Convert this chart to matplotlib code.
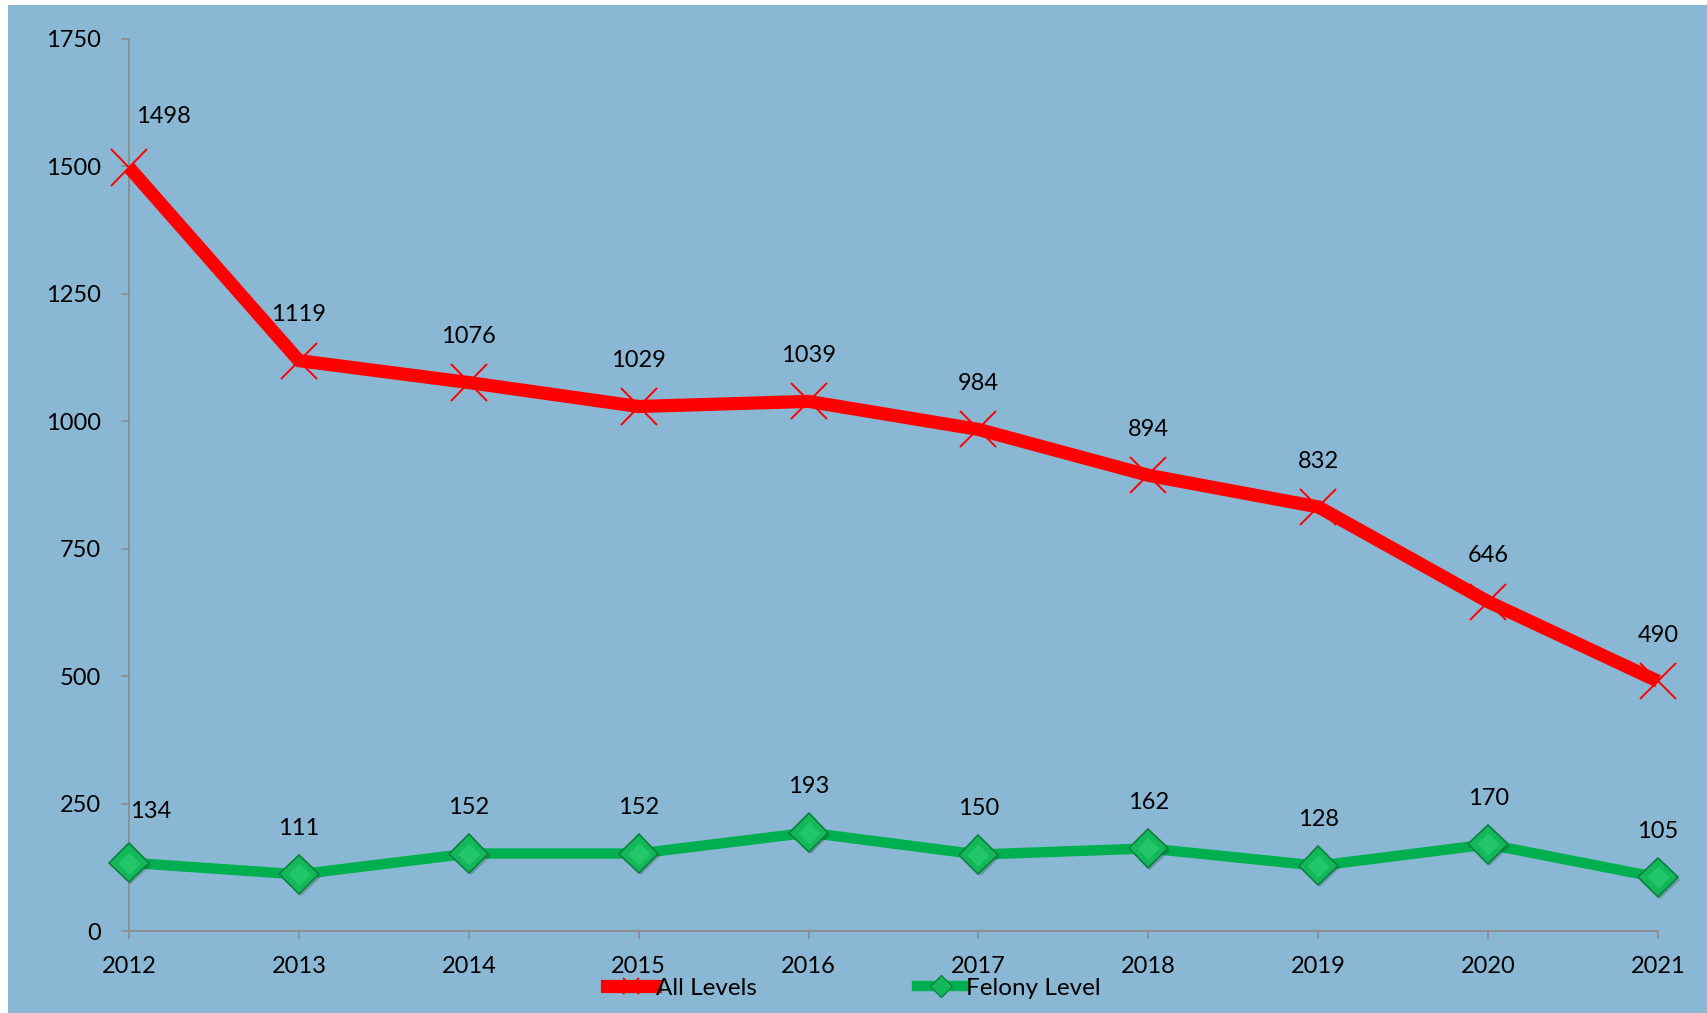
import numpy as np
import matplotlib.pyplot as plt
from matplotlib.lines import Line2D
import matplotlib.patheffects as pe

years = [2012, 2013, 2014, 2015, 2016, 2017, 2018, 2019, 2020, 2021]
all_levels = [1498, 1119, 1076, 1029, 1039, 984, 894, 832, 646, 490]
felony_level = [134, 111, 152, 152, 193, 150, 162, 128, 170, 105]
y_ticks = [0, 250, 500, 750, 1000, 1250, 1500, 1750]

bg = "#8AB8D4"
red = "#FF0000"
green = "#00B050"
axis_gray = "#8C8C8C"

plt.rcParams['font.family'] = ['Lato', 'DejaVu Sans']

fig = plt.figure(figsize=(17.08, 10.13), dpi=100, facecolor="white")
# blue panel with thin white margin top/left
fig.patches.append(plt.Rectangle((8 / 1708, 0), 1, 1 - 5 / 1013, transform=fig.transFigure,
                                 facecolor=bg, edgecolor="none", zorder=-10))
ax = fig.add_axes([129 / 1708, 1 - 931 / 1013, (1658 - 129) / 1708, (931 - 39) / 1013])
ax.set_facecolor("none")
ax.set_zorder(2)

shadow = [pe.SimplePatchShadow(offset=(1.5, -1.5), alpha=0.25), pe.Normal()]

ax.plot(years, all_levels, color=red, linewidth=9.5, solid_capstyle="butt", zorder=3,
        clip_on=False)
ax.plot(years, all_levels, linestyle="none", marker="x", markersize=26, markeredgewidth=1.4,
        color=red, zorder=4, path_effects=shadow, clip_on=False)

ax.plot(years, felony_level, color=green, linewidth=7.5, zorder=3, clip_on=False)
ax.plot(years, felony_level, linestyle="none", marker="D", markersize=20,
        markerfacecolor="#13B85A", markeredgecolor="#0B7F3C", markeredgewidth=1.2,
        zorder=4, path_effects=shadow, clip_on=False)
ax.plot(years, felony_level, linestyle="none", marker="D", markersize=11,
        markerfacecolor="#2BD272", markeredgecolor="none", alpha=0.6, zorder=5,
        clip_on=False)

for i, (x, y) in enumerate(zip(years, all_levels)):
    if i == 0:
        ax.annotate(str(y), (x, y), xytext=(5, 37), textcoords="offset points",
                    ha="left", va="center", fontsize=17)
    else:
        ax.annotate(str(y), (x, y), xytext=(0, 33), textcoords="offset points",
                    ha="center", va="center", fontsize=17)

for i, (x, y) in enumerate(zip(years, felony_level)):
    if i == 0:
        ax.annotate(str(y), (x, y), xytext=(1, 37), textcoords="offset points",
                    ha="left", va="center", fontsize=17)
    else:
        ax.annotate(str(y), (x, y), xytext=(0, 33), textcoords="offset points",
                    ha="center", va="center", fontsize=17)

ax.set_xlim(years[0], years[-1])
ax.set_ylim(0, 1750)
ax.set_xticks(years)
ax.set_yticks(y_ticks)
ax.tick_params(axis="both", direction="out", length=6, width=1.2, color=axis_gray,
               labelsize=17, labelcolor="black")
ax.tick_params(axis="y", pad=14)
ax.tick_params(axis="x", pad=12)
for s in ["top", "right"]:
    ax.spines[s].set_visible(False)
for s in ["left", "bottom"]:
    ax.spines[s].set_color(axis_gray)
    ax.spines[s].set_linewidth(1.3)

handles = [
    Line2D([], [], color=red, linewidth=9.5, marker="x", markersize=12, markeredgewidth=1.4),
    Line2D([], [], color=green, linewidth=7.5, marker="D", markersize=11,
           markerfacecolor="#13B85A", markeredgecolor="#0B7F3C"),
]
fig.legend(handles, ["All Levels", "Felony Level"], loc="center",
           bbox_to_anchor=(0.5, 1 - 988 / 1013), ncol=2, frameon=False,
           fontsize=17.5, handlelength=1.95, handletextpad=0.05, columnspacing=6.6)

fig.savefig("out.png", dpi=100)
